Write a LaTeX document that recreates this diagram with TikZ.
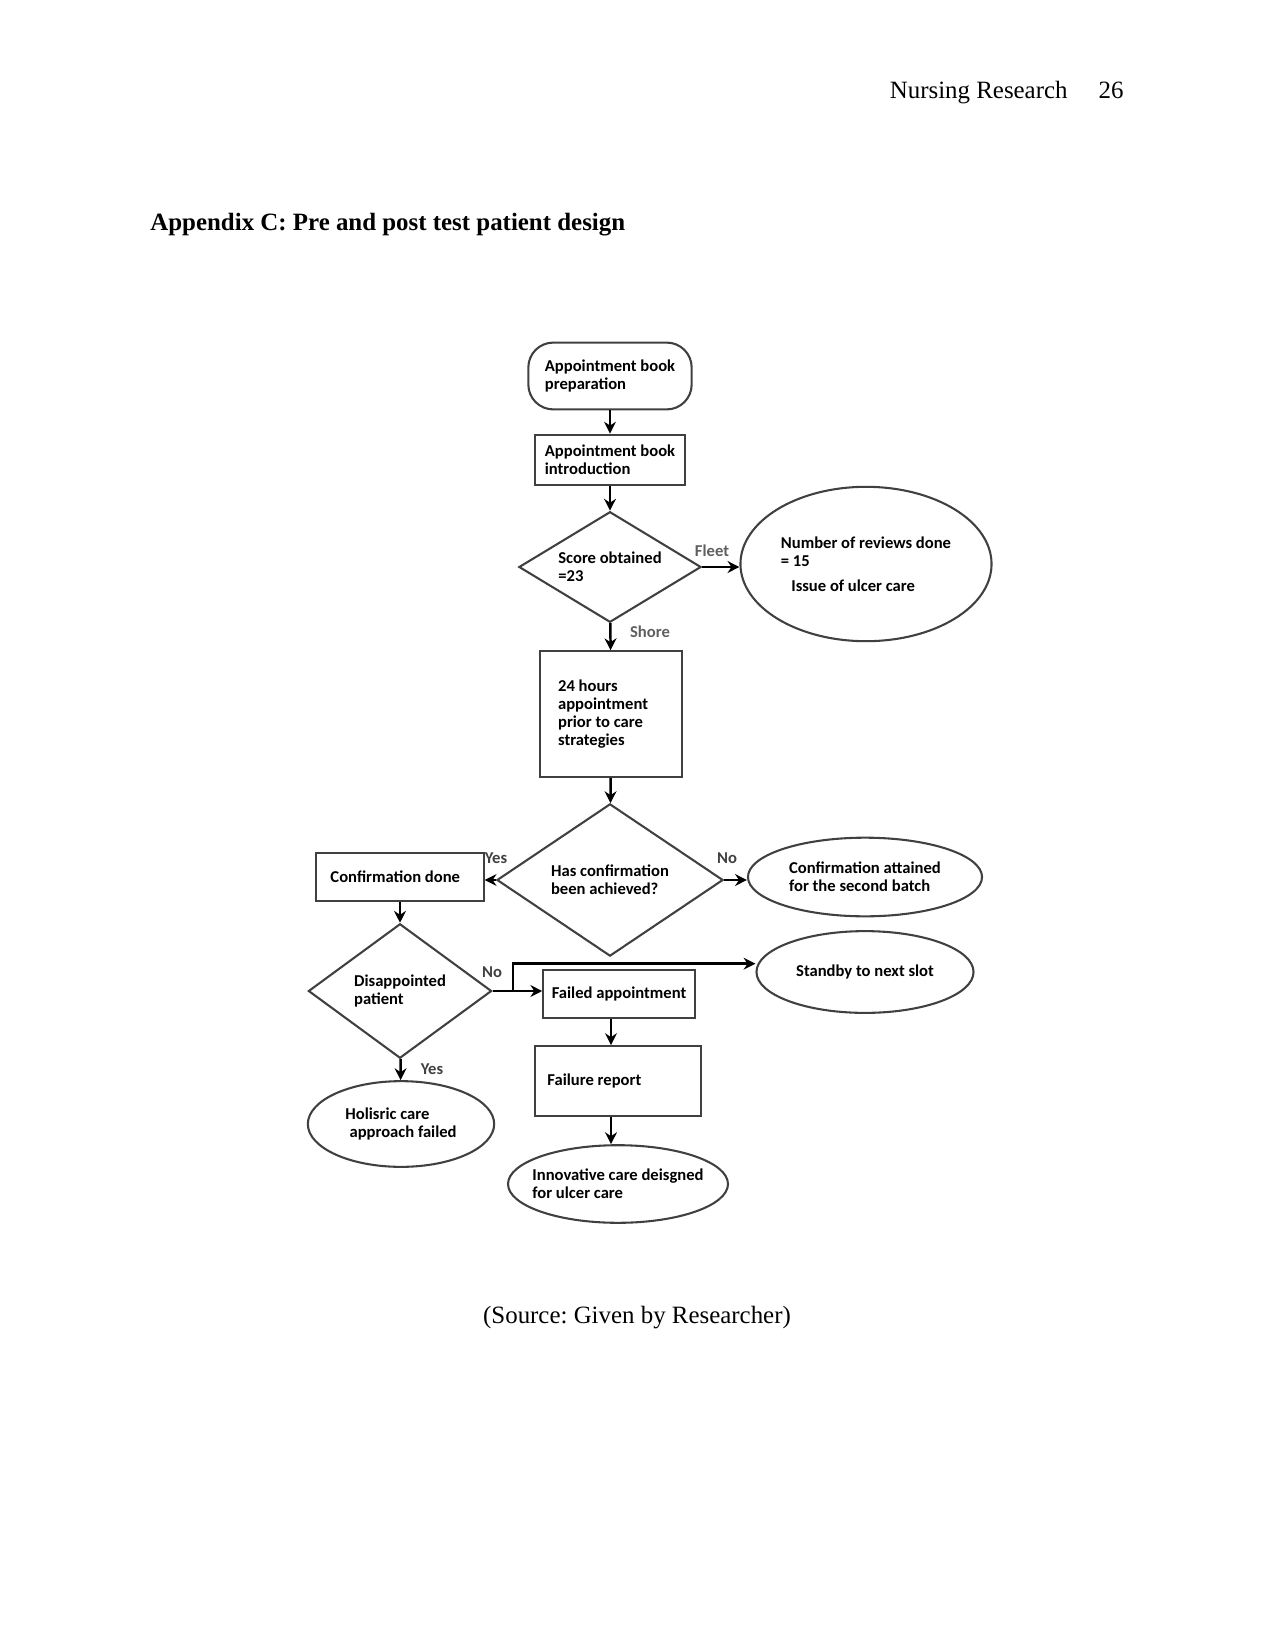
\documentclass[tikz,border=0pt]{standalone}
\usepackage{fontspec}
\setmainfont{Liberation Serif}
\newfontfamily\flowfont{Carlito}
\usetikzlibrary{shapes.geometric,arrows.meta}
\frenchspacing
\definecolor{edgegray}{RGB}{64,64,64}
\definecolor{lblgray}{RGB}{95,95,95}
\tikzset{
  box/.style={draw=edgegray,line width=1pt,align=left,inner sep=0pt,
              font=\flowfont\fontsize{8}{8.8}\selectfont\bfseries},
  term/.style={box,rounded corners=12pt},
  dec/.style={box,diamond},
  oval/.style={box,ellipse},
  arr/.style={-{Stealth[length=2mm,width=2mm]},line width=1.2pt,black},
  lbl/.style={font=\flowfont\fontsize{8}{9}\selectfont\bfseries,text=lblgray,inner sep=0pt}
}

\begin{document}
\begin{tikzpicture}[x=0.016933cm,y=-0.016933cm,
  head/.style={font=\fontsize{12}{14}\selectfont,inner sep=0pt},
  lbox/.style={box,align=flush left}]
  \useasboundingbox (0,0) rectangle (1275,1651);
  % page text
  \node[head,anchor=base east] (runhead) at (1068,98) {Nursing Research};
  \node[head,anchor=base east] (pagenum) at (1124,98) {26};
  \node[head,anchor=base west,font=\fontsize{12}{14}\selectfont\bfseries] (title) at (150,230) {Appendix C: Pre and post test patient design};
  \node[head,anchor=base] (source) at (637,1323) {(Source: Given by Researcher)};

  % flowchart
  \node[term,minimum width=78.7pt,minimum height=32.2pt] (prep) at (610,376) {Appointment book\\preparation};
  \node[box,minimum width=72pt,minimum height=24.5pt] (intro) at (610,460) {Appointment book\\introduction};
  \node[dec,shape aspect=1.65,minimum width=87.8pt,minimum height=53.3pt] (score) at (610,567) {Score obtained\\=23};
  \node[oval,minimum width=121pt,minimum height=74.4pt] (reviews) at (866,564) {Number of reviews done\\= 15\\[3pt]\hspace{5pt}Issue of ulcer care};
  \node[lbox,minimum width=68.2pt,minimum height=60.5pt,text width=51pt] (prior) at (611,714) {24 hours\\appointment\\prior to care\\strategies};
  \node[dec,shape aspect=1.48,minimum width=109pt,minimum height=73.4pt] (achieved) at (610,880) {Has confirmation\\been achieved?};
  \node[lbox,minimum width=80.6pt,minimum height=23.5pt,text width=67pt] (done) at (400,877) {Confirmation done};
  \node[oval,minimum width=112.8pt,minimum height=37.9pt] (batch) at (865,877) {Confirmation attained\\for the second batch};
  \node[dec,shape aspect=1.36,minimum width=88.3pt,minimum height=64.8pt] (disapp) at (400,991) {Disappointed\\patient};
  \node[box,minimum width=73pt,minimum height=23.5pt] (failed) at (619,994) {Failed appointment};
  \node[oval,minimum width=104.6pt,minimum height=39.4pt] (standby) at (865,972) {Standby to next slot};
  \node[lbox,minimum width=79.7pt,minimum height=33.6pt,text width=68pt] (report) at (618,1081) {Failure report};
  \node[oval,inner xsep=-4pt,minimum width=106pt,minimum height=37.4pt] (innov) at (618,1184) {Innovative care deisgned\\for ulcer care};
  \node[oval,minimum width=89.8pt,minimum height=41.3pt] (holi) at (401,1124) {Holisric care\\\hspace{2pt}approach failed};
  \coordinate (split) at (513,991);

  \draw[arr] (prep) -- (intro);
  \draw[arr] (intro) -- (score);
  \draw[arr] (score.east) -- (score.east -| reviews.west);
  \draw[arr] (score) -- (prior);
  \draw[arr] (prior) -- (achieved);
  \draw[arr] (achieved.west) -- (achieved.west -| done.east);
  \draw[arr] (achieved.east) -- (achieved.east -| batch.west);
  \draw[arr] (done) -- (disapp);
  \draw[arr] (disapp.east) -- (disapp.east -| failed.west);
  \draw[arr] (split) |- ([yshift=4pt]standby.west);
  \draw[arr] (disapp) -- (holi);
  \draw[arr] (failed.south -| prior.south) -- (report.north -| prior.south);
  \draw[arr] (report.south -| prior.south) -- (innov.north -| prior.south);

  % branch labels
  \node[lbl] (fleet) at (712,551) {Fleet};
  \node[lbl] (shore) at (650,632) {Shore};
  \node[lbl,text=edgegray] (yes1) at (496,858) {Yes};
  \node[lbl,text=edgegray] (no1) at (727,858) {No};
  \node[lbl,text=edgegray] (no2) at (492,972) {No};
  \node[lbl,text=edgegray] (yes2) at (432,1069) {Yes};
\end{tikzpicture}
\end{document}
